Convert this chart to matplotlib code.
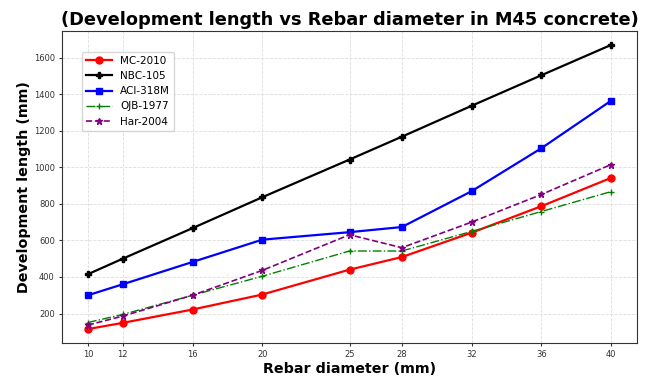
import numpy as np
import matplotlib
matplotlib.use("Agg")
from matplotlib import pyplot as plt

# rebar diameters (mm)
diameters = [10, 12, 16, 20, 25, 28, 32, 36, 40]

# development length (mm) per code
mc_2010 = [115, 149, 222, 304, 440, 509, 642, 787, 942]
nbc_105 = [415, 500, 667, 836, 1042, 1167, 1336, 1503, 1669]
aci_318m = [300, 360, 482, 604, 645, 673, 869, 1104, 1364]
ojb_1977 = [151, 195, 300, 404, 542, 542, 649, 758, 867]
har_2004 = [137, 186, 300, 436, 631, 560, 700, 851, 1015]


def main():
        fig = plt.figure(figsize=(6.45, 3.78), dpi=100)
        ax = fig.add_axes([61.7/645, 1 - 343.3/378, (637.3-61.7)/645, (343.3-30.7)/378])

        ax.plot(diameters, mc_2010, color="red", marker="o", ms=5, lw=1.6, label="MC-2010")
        ax.plot(diameters, nbc_105, color="black", marker="P", ms=5, lw=1.6, label="NBC-105")
        ax.plot(diameters, aci_318m, color="blue", marker="s", ms=5, lw=1.6, label="ACI-318M")
        ax.plot(diameters, ojb_1977, color="green", marker="+", ms=5, lw=1.0, ls="-.", label="OJB-1977")
        ax.plot(diameters, har_2004, color="purple", marker="*", ms=5, lw=1.2, ls="--", label="Har-2004")

        ax.set_xticks(diameters)
        ax.tick_params(labelsize=6, colors="#333333", length=2.5, pad=2.5)
        ax.grid(True, ls="--", color="#dddddd", lw=0.6)
        for s in ax.spines.values():
                s.set_color("#333333")

        ax.set_title("(Development length vs Rebar diameter in M45 concrete)",
                     fontsize=12.8, fontweight="bold", pad=4)
        ax.set_xlabel("Rebar diameter (mm)", fontsize=10.3, fontweight="bold", labelpad=2)
        ax.set_ylabel("Development length (mm)", fontsize=10.3, fontweight="bold", labelpad=2)

        ax.legend(loc="upper left", bbox_to_anchor=(0.035, 0.933), borderaxespad=0,
                  fontsize=7.5, handlelength=2.5, edgecolor="#cccccc")

        fig.savefig("out.png", dpi=100)


if __name__ == "__main__":
        main()
